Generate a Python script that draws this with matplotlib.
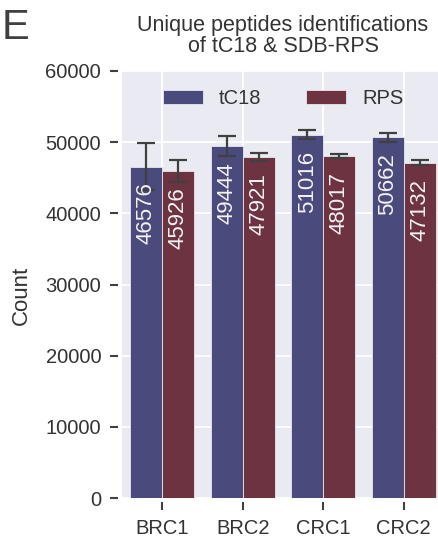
import matplotlib
matplotlib.use("Agg")
import matplotlib.pyplot as plt
import matplotlib.transforms as mtransforms
import numpy as np

plt.rcParams['font.family'] = ['Liberation Sans', 'DejaVu Sans']

categories = ["BRC1", "BRC2", "CRC1", "CRC2"]
series_names = ["tC18", "RPS"]
tc18_values = [46576, 49444, 51016, 50662]
rps_values = [45926, 47921, 48017, 47132]
tc18_err = [3300, 1400, 640, 610]
rps_err = [1570, 600, 300, 380]
yticks = [0, 10000, 20000, 30000, 40000, 50000, 60000]

colors = ["#4b4a7d", "#6e3341"]
text_col = "#333333"

fig = plt.figure(figsize=(4.39, 5.39), dpi=100)
W, H = 439, 539
ax = fig.add_axes([122 / W, 1 - 498 / H, 322 / W, 427 / H])
ax.set_facecolor("#eaeaf2")
ax.set_axisbelow(True)
ax.grid(True, color="white", linewidth=1.25)

# value labels sit a fixed distance below each bar top
label_tf = mtransforms.offset_copy(ax.transData, fig=fig, x=0, y=-16, units="dots")

x = np.arange(len(categories))
bw = 0.4
for i, (vals, errs) in enumerate([(tc18_values, tc18_err), (rps_values, rps_err)]):
    pos = x + (i - 0.5) * bw
    ax.bar(pos, vals, width=bw, color=colors[i], edgecolor="#e8e8ee",
           linewidth=0.6, label=series_names[i], zorder=2)
    ax.errorbar(pos, vals, yerr=errs, fmt="none", ecolor="#404040",
                elinewidth=1.6, capsize=6.5, capthick=1.6, zorder=3)
    for p, v in zip(pos, vals):
        ax.text(p, v, f"{v}", transform=label_tf, rotation=90,
                ha="center", va="top", color="#f2f2f2", fontsize=16, zorder=4)

ax.set_xlim(-0.5, len(categories) - 0.5)
ax.set_ylim(0, 60000)
ax.set_yticks(yticks)
ax.set_xticks(x)
ax.set_xticklabels(categories)
for s in ax.spines.values():
    s.set_visible(False)
ax.spines["left"].set_position(("outward", 3))
ax.spines["bottom"].set_position(("outward", 3))
ax.tick_params(axis="both", which="major", direction="out", length=6,
               width=1.5, color="#404040", labelcolor=text_col,
               labelsize=14.5, pad=6)

leg = ax.legend(loc="upper center", ncol=2, frameon=False, fontsize=14.5,
                bbox_to_anchor=(0.5, 1.0), handlelength=2.0, columnspacing=2.2,
                labelcolor=text_col)

ax.set_title("Unique peptides identifications\nof tC18 & SDB-RPS",
             fontsize=15.5, color=text_col, pad=14, linespacing=1.0)
fig.text(21 / W, 1 - 295 / H, "Count", rotation=90, ha="center",
         va="center", fontsize=16, color=text_col)
fig.text(2 / W, 1 - 28 / H, "E", ha="left", va="center", fontsize=30,
         color="#404040")

fig.savefig("out.png", dpi=100)
